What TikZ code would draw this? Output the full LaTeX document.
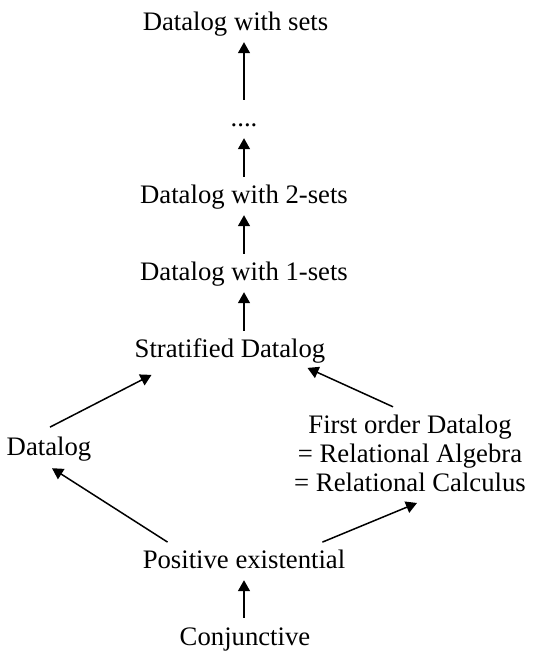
\documentclass[tikz,border=0pt]{standalone}
\usepackage{fontspec}
\setmainfont{Liberation Serif}
\usetikzlibrary{arrows.meta,calc}
\begin{document}
\begin{tikzpicture}[x=1pt,y=-1pt,
  lab/.style={inner sep=0pt, text height=18.7pt, text depth=6.7pt, anchor=base, font=\fontsize{26.7}{29}\selectfont},
  multi/.style={inner sep=0pt, align=center, anchor=north, font=\fontsize{26.7}{29}\selectfont},
  arr/.style={line width=1.5pt, -{Triangle[length=11pt,width=12pt]}}]
\useasboundingbox (0,0) rectangle (555,651);
\node[lab] (sets) at (235.5,30) {Datalog with sets};
\node[lab] (dots) at (244,126) {....};
\node[lab] (s2) at (244,203) {Datalog with 2-sets};
\node[lab] (s1) at (244,280) {Datalog with 1-sets};
\node[lab] (strat) at (230,357) {Stratified Datalog};
\node[lab] (datalog) at (49,455) {Datalog};
\node[multi] (fo) at (410,414.8) {First order Datalog\\= Relational Algebra\\= Relational Calculus};
\node[lab] (pos) at (244,568) {Positive existential};
\node[lab] (conj) at (245,645) {Conjunctive};

\draw[arr] ($(dots.north)+(0,-7.3)$) -- ($(dots |- sets.south)+(0,5.3)$);
\draw[arr] ($(s2.north)+(0,-7.3)$) -- ($(dots.south)+(0,5.3)$);
\draw[arr] ($(s1.north)+(0,-7.3)$) -- ($(s2.south)+(0,5.3)$);
\draw[arr] ($(s1 |- strat.north)+(0,-7.3)$) -- ($(s1.south)+(0,5.3)$);
\draw[arr] ($(pos |- conj.north)+(0,-8.3)$) -- ($(pos.south)+(0,5.3)$);
\draw[arr] ($(datalog.north)+(1,-9)$) -- ($(strat.south west)+(17,11)$);
\draw[arr] ($(fo.north)+(-17,-8)$) -- ($(strat.south east)+(-18,4)$);
\draw[arr] ($(pos.north west)+(25,-7)$) -- ($(datalog.south)+(3,6.3)$);
\draw[arr] ($(pos.north east)+(-23,-7)$) -- ($(fo.south)+(7,11)$);
\end{tikzpicture}
\end{document}
